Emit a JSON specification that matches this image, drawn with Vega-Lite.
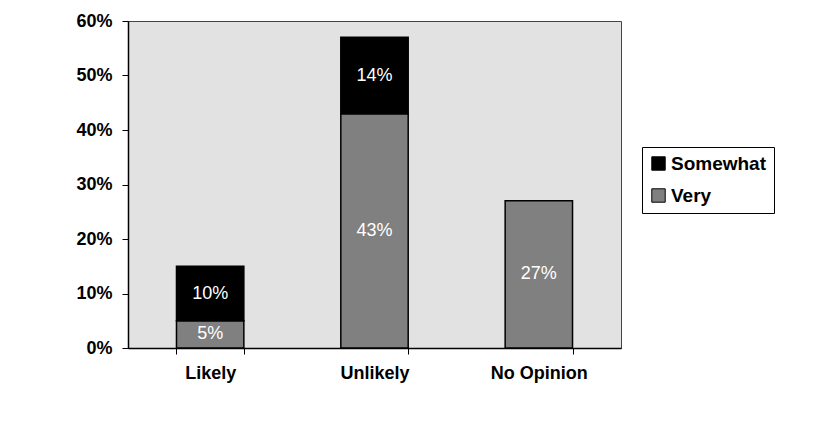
{
  "$schema": "https://vega.github.io/schema/vega-lite/v6.json",
  "autosize": "none",
  "width": 493,
  "height": 327,
  "padding": {"left": 128, "top": 21, "right": 196, "bottom": 81},
  "background": "white",
  "data": {
    "values": [
      {"cat": "Likely", "series": "Very", "value": 0.05},
      {"cat": "Likely", "series": "Somewhat", "value": 0.10},
      {"cat": "Unlikely", "series": "Very", "value": 0.43},
      {"cat": "Unlikely", "series": "Somewhat", "value": 0.14},
      {"cat": "No Opinion", "series": "Very", "value": 0.27}
    ]
  },
  "transform": [
    {"stack": "value", "groupby": ["cat"], "sort": [{"field": "series", "order": "descending"}], "as": ["v0", "v1"]},
    {"calculate": "(datum.v0 + datum.v1) / 2", "as": "mid"}
  ],
  "encoding": {
    "x": {
      "field": "cat", "type": "nominal", "sort": ["Likely", "Unlikely", "No Opinion"],
      "scale": {"paddingInner": 0.59, "paddingOuter": 0.295},
      "axis": {"title": null, "labelAngle": 0, "tickBand": "extent", "labelFontSize": 18, "labelFontWeight": "bold", "labelFont": "Liberation Sans", "labelColor": "black", "tickColor": "black", "tickSize": 6, "labelPadding": 10, "domainColor": "black", "domainWidth": 1.5}
    }
  },
  "layer": [
    {
      "mark": {"type": "bar", "stroke": "black", "strokeWidth": 1.5},
      "encoding": {
        "y": {
          "field": "v0", "type": "quantitative",
          "scale": {"domain": [0, 0.6], "nice": false},
          "axis": {"title": null, "format": ".0%", "values": [0, 0.1, 0.2, 0.3, 0.4, 0.5, 0.6], "grid": false, "labelFontSize": 18, "labelFontWeight": "bold", "labelFont": "Liberation Sans", "labelColor": "black", "tickColor": "black", "tickSize": 6, "labelPadding": 10, "domainColor": "black", "domainWidth": 1.5}
        },
        "y2": {"field": "v1"},
        "color": {
          "field": "series", "type": "nominal",
          "scale": {"domain": ["Somewhat", "Very"], "range": ["#000000", "#808080"]},
          "legend": {
            "title": null, "orient": "none", "legendX": 514, "legendY": 126,
            "strokeColor": "black", "fillColor": "white", "padding": 7,
            "symbolType": "square", "symbolSize": 180, "symbolStrokeColor": "black", "symbolStrokeWidth": 1,
            "labelFontSize": 19, "labelFontWeight": "bold", "labelFont": "Liberation Sans", "labelColor": "black",
            "labelOffset": 3, "rowPadding": 12
          }
        }
      }
    },
    {
      "mark": {"type": "text", "color": "white", "fontSize": 18, "font": "Liberation Sans", "baseline": "middle"},
      "encoding": {
        "y": {"field": "mid", "type": "quantitative"},
        "text": {"field": "value", "type": "quantitative", "format": ".0%"}
      }
    }
  ],
  "config": {
    "view": {"fill": "#e2e2e2", "stroke": "#444444", "strokeWidth": 1}
  }
}
